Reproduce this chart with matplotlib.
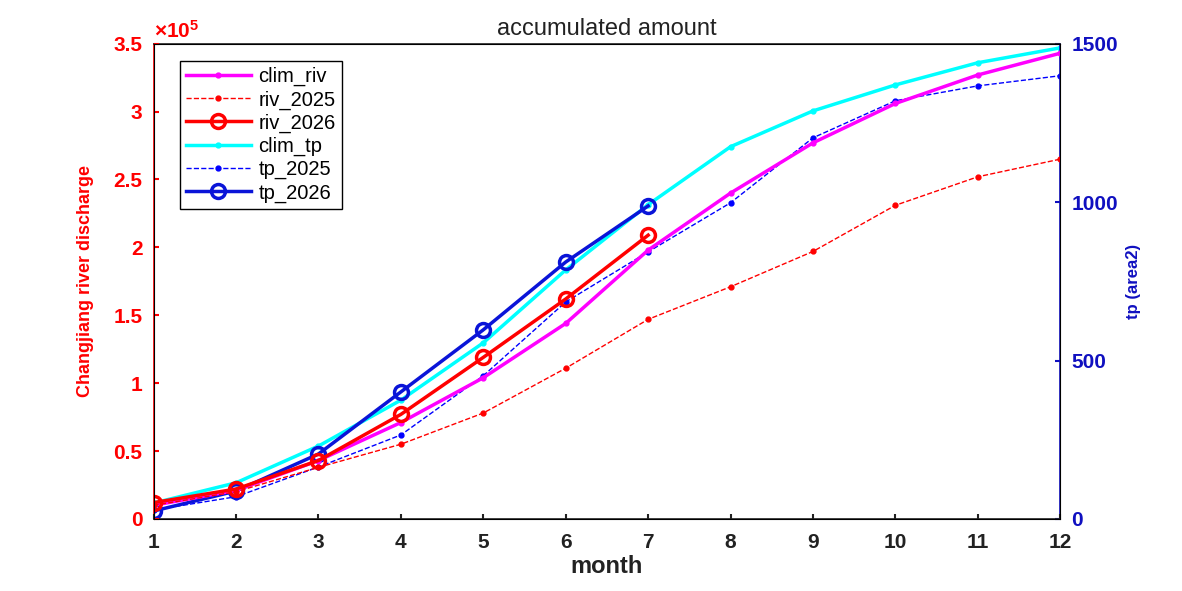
import matplotlib
matplotlib.use("Agg")
import matplotlib.pyplot as plt
plt.rcParams['font.family'] = ['Liberation Sans', 'DejaVu Sans']
plt.rcParams['mathtext.fontset'] = 'custom'
plt.rcParams['mathtext.rm'] = 'Liberation Sans'
plt.rcParams['mathtext.bf'] = 'Liberation Sans:bold'

months = list(range(1, 13))
clim_riv = [0.10, 0.21, 0.43, 0.71, 1.04, 1.44, 1.98, 2.40, 2.77, 3.06, 3.27, 3.43]
riv_2025 = [0.10, 0.20, 0.38, 0.55, 0.78, 1.11, 1.47, 1.71, 1.97, 2.31, 2.52, 2.65]
riv_2026 = [0.12, 0.22, 0.43, 0.77, 1.19, 1.62, 2.09]
clim_tp = [50, 114, 230, 375, 556, 786, 992, 1175, 1288, 1370, 1440, 1487]
tp_2025 = [28, 70, 164, 265, 452, 685, 843, 998, 1203, 1320, 1367, 1399]
tp_2026 = [25, 88, 205, 401, 597, 811, 988]

fig = plt.figure(figsize=(11.82, 5.91), dpi=100)
ax = fig.add_axes([0.130, 0.122, 0.767, 0.804])
ax2 = ax.twinx()

l1, = ax.plot(months, clim_riv, '-', color='magenta', lw=2.5, marker='.', ms=7, label='clim_riv')
l2, = ax.plot(months, riv_2025, '--', color='red', lw=1, marker='.', ms=7, label='riv_2025')
l3, = ax.plot(months[:7], riv_2026, '-', color='red', lw=2.5, marker='o', ms=10, mfc='none', mew=2.5, label='riv_2026')
l4, = ax2.plot(months, clim_tp, '-', color='cyan', lw=2.5, marker='.', ms=7, label='clim_tp')
l5, = ax2.plot(months, tp_2025, '--', color='blue', lw=1, marker='.', ms=7, label='tp_2025')
l6, = ax2.plot(months[:7], tp_2026, '-', color='#0a14d8', lw=2.5, marker='o', ms=10, mfc='none', mew=2.5, label='tp_2026')

ax.set_xlim(1, 12)
ax.set_ylim(0, 3.5)
ax2.set_ylim(0, 1500)
ax.set_xticks(months)
ax.set_yticks([0, 0.5, 1, 1.5, 2, 2.5, 3, 3.5])
ax.set_yticklabels(['0', '0.5', '1', '1.5', '2', '2.5', '3', '3.5'])
ax2.set_yticks([0, 500, 1000, 1500])

ax.tick_params(axis='x', labelsize=15, width=1.5, direction='in', colors='#222222', pad=10)
ax.tick_params(axis='y', labelsize=15, colors='red', width=1.5, direction='in', pad=8)
ax2.tick_params(axis='y', labelsize=15, colors='#1010c0', width=1.5, direction='in', pad=8)
for lab in ax.get_xticklabels() + ax.get_yticklabels() + ax2.get_yticklabels():
    lab.set_fontweight('bold')
for s in ['top', 'bottom']:
    ax2.spines[s].set_color('#222222')
ax2.spines['left'].set_color('red')
ax2.spines['right'].set_color('#1010c0')
for s in ax2.spines.values():
    s.set_linewidth(1.2)

ax.set_xlabel('month', fontsize=17, fontweight='bold', color='#222222', labelpad=2)
ax.set_ylabel('Changjiang river discharge', fontsize=13, fontweight='bold', color='red', labelpad=14)
ax2.set_ylabel('tp (area2)', fontsize=12, fontweight='bold', color='#1010c0', labelpad=6)
ax.set_title('accumulated amount', fontsize=17, color='#222222')
ax.text(0.0, 1.005, r'$\mathbf{\times 10^5}$', transform=ax.transAxes, color='red', fontsize=15,
        ha='left', va='bottom')

leg = ax.legend(handles=[l1, l2, l3, l4, l5, l6], loc='upper left', bbox_to_anchor=(0.018, 0.985),
                fontsize=14.5, frameon=True, fancybox=False, edgecolor='black', handlelength=3.2,
                handletextpad=0.4, labelspacing=0.2, borderpad=0.3, framealpha=1)
leg.get_frame().set_linewidth(1)
ax.set_zorder(1); ax.patch.set_visible(False)
fig.savefig('out.png', dpi=100)
